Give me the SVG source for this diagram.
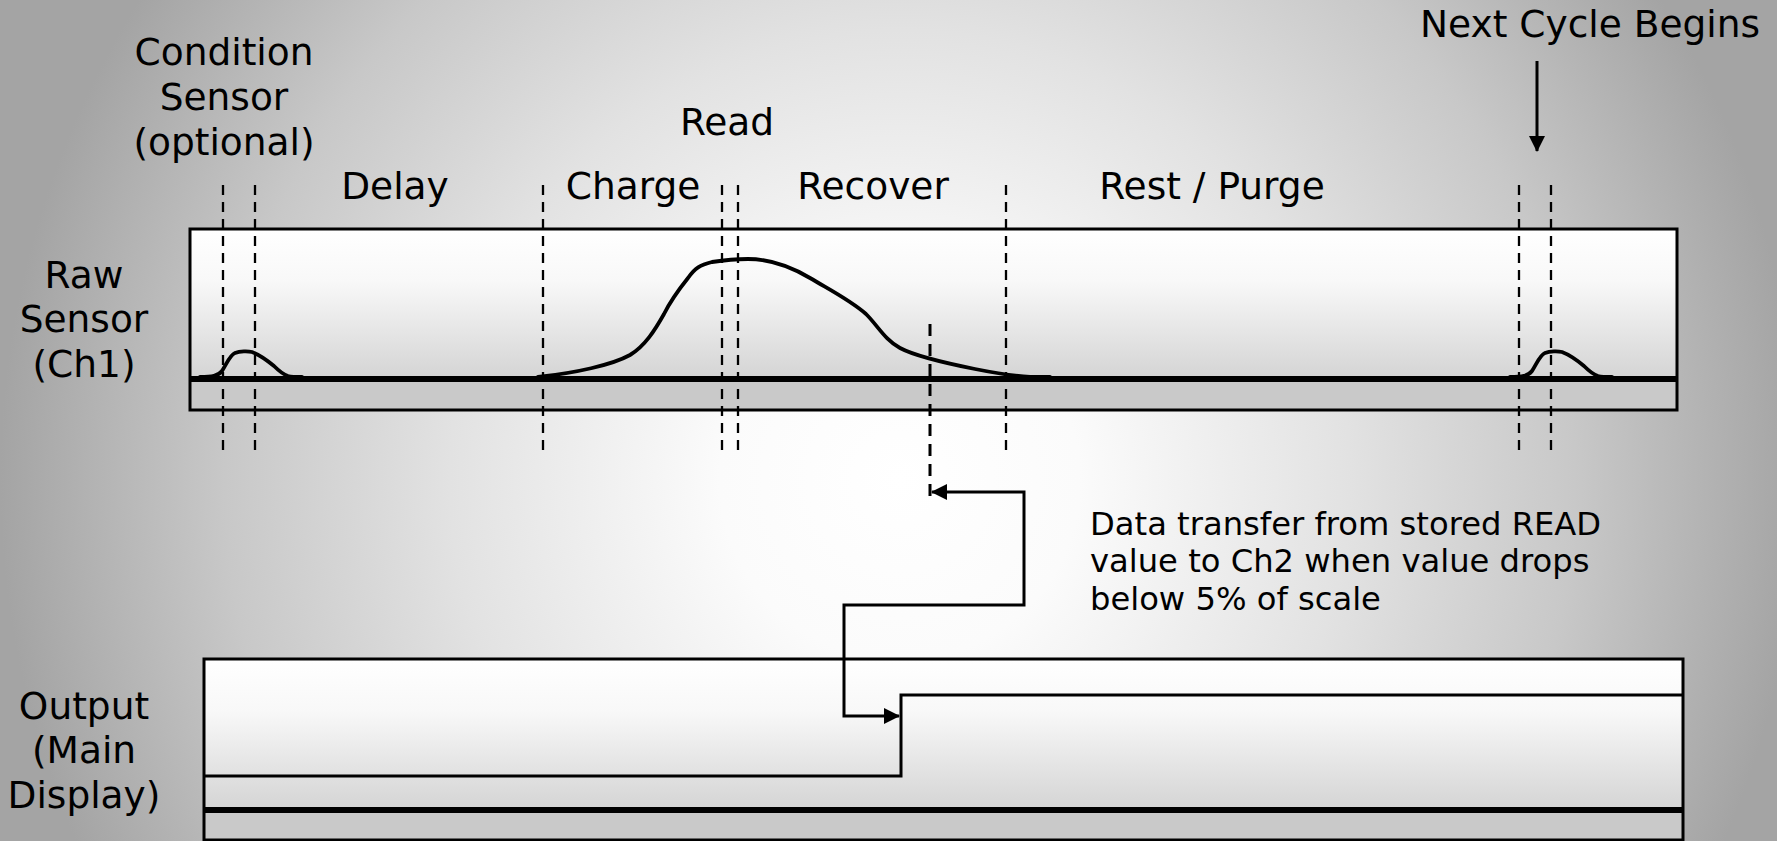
<svg xmlns="http://www.w3.org/2000/svg" width="1777" height="841" viewBox="0 0 1777 841">
  <defs>
    <radialGradient id="bg" gradientUnits="userSpaceOnUse" cx="900" cy="480" r="900">
      <stop offset="0" stop-color="#ffffff"/>
      <stop offset="0.2" stop-color="#fbfbfb"/>
      <stop offset="0.5" stop-color="#e2e2e2"/>
      <stop offset="0.75" stop-color="#c8c8c8"/>
      <stop offset="1" stop-color="#a4a4a4"/>
    </radialGradient>
    <linearGradient id="boxfill" x1="0" y1="0" x2="0" y2="1">
      <stop offset="0" stop-color="#ffffff"/>
      <stop offset="0.35" stop-color="#f8f8f8"/>
      <stop offset="1" stop-color="#d4d4d4"/>
    </linearGradient>
    <marker id="arrow" markerUnits="userSpaceOnUse" markerWidth="16" markerHeight="16" viewBox="0 0 16 16" refX="15" refY="8" orient="auto">
      <path d="M0,0 L16,8 L0,16 Z" fill="#000"/>
    </marker>
    <marker id="arrowStart" markerUnits="userSpaceOnUse" markerWidth="16" markerHeight="16" viewBox="0 0 16 16" refX="1" refY="8" orient="auto">
      <path d="M16,0 L0,8 L16,16 Z" fill="#000"/>
    </marker>
    <style>
      text { font-family: "DejaVu Sans", Verdana, sans-serif; fill: #000; }
      .lbl { font-size: 37.5px; text-anchor: middle; }
      .note { font-size: 32.2px; }
      .frame { stroke: #000; stroke-width: 3; }
      .band { fill: #c9c9c9; }
      .base { stroke: #000; stroke-width: 6; fill: none; }
      .sig { stroke: #000; stroke-width: 3.8; fill: none; stroke-linejoin: round; stroke-linecap: round; }
      .div { stroke: #000; stroke-width: 2.3; stroke-dasharray: 10 7; fill: none; }
      .xfer { stroke: #000; stroke-width: 3; stroke-dasharray: 12 8; fill: none; }
      .conn { stroke: #000; stroke-width: 3; fill: none; }
    </style>
  </defs>

  <rect id="background" x="0" y="0" width="1777" height="841" fill="url(#bg)"/>

  <g id="raw-sensor">
    <rect x="190" y="229" width="1487" height="150" fill="url(#boxfill)"/>
    <rect class="band" x="190" y="379" width="1487" height="31"/>
    <rect class="frame" x="190" y="229" width="1487" height="181" fill="none"/>
    <line class="base" x1="190" y1="379" x2="1677" y2="379"/>
    <path class="sig" d="M 200 377 C 212 377, 218 376, 222 371 C 227 363, 230 355, 235 353 C 240 351, 248 351, 252 352 C 260 355, 268 361, 274 366 C 279 371, 282 374, 288 376 C 292 377, 296 377, 302 377"/>
    <path class="sig" d="M 538 377 C 575 373, 612 365, 630 355 C 645 346, 655 330, 664 314 C 672 298, 680 288, 688 278 C 695 268, 700 265, 712 262 C 725 260, 735 259, 748 259 C 770 259, 790 266, 810 278 C 830 290, 850 300, 866 314 C 878 326, 885 340, 900 348 C 915 356, 950 364, 975 369 C 995 373, 1010 376, 1030 377 L 1050 377"/>
    <path class="sig" d="M 1510 377 C 1522 377, 1528 376, 1532 371 C 1537 363, 1540 355, 1545 353 C 1550 351, 1558 351, 1562 352 C 1570 355, 1578 361, 1584 366 C 1589 371, 1592 374, 1598 376 C 1602 377, 1606 377, 1612 377"/>
    <text class="lbl" x="84" y="288">Raw</text>
    <text class="lbl" x="84" y="332">Sensor</text>
    <text class="lbl" x="84" y="377">(Ch1)</text>
  </g>

  <g id="output">
    <rect x="204" y="659" width="1479" height="151" fill="url(#boxfill)"/>
    <rect class="band" x="204" y="810" width="1479" height="30"/>
    <rect class="frame" x="204" y="659" width="1479" height="181" fill="none"/>
    <line class="base" x1="204" y1="810" x2="1683" y2="810"/>
    <path class="conn" d="M 204 776 L 901 776 L 901 695 L 1683 695"/>
    <text class="lbl" x="84" y="719">Output</text>
    <text class="lbl" x="84" y="763">(Main</text>
    <text class="lbl" x="84" y="808">Display)</text>
  </g>

  <g id="phase-dividers">
    <line class="div" x1="223" y1="185" x2="223" y2="456"/>
    <line class="div" x1="255" y1="185" x2="255" y2="456"/>
    <line class="div" x1="543" y1="185" x2="543" y2="456"/>
    <line class="div" x1="722" y1="185" x2="722" y2="456"/>
    <line class="div" x1="738" y1="185" x2="738" y2="456"/>
    <line class="div" x1="1006" y1="185" x2="1006" y2="456"/>
    <line class="div" x1="1519" y1="185" x2="1519" y2="456"/>
    <line class="div" x1="1551" y1="185" x2="1551" y2="456"/>
    <line class="xfer" x1="930" y1="324" x2="930" y2="500"/>
  </g>

  <g id="phase-labels">
    <g id="label-condition">
      <text class="lbl" x="224" y="65">Condition</text>
      <text class="lbl" x="224" y="110">Sensor</text>
      <text class="lbl" x="224" y="155">(optional)</text>
    </g>
    <text id="label-read" class="lbl" x="727" y="135">Read</text>
    <text id="label-delay" class="lbl" x="395" y="199">Delay</text>
    <text id="label-charge" class="lbl" x="633" y="199">Charge</text>
    <text id="label-recover" class="lbl" x="873" y="199">Recover</text>
    <text id="label-rest" class="lbl" x="1212" y="199">Rest / Purge</text>
    <text id="label-next" class="lbl" x="1590" y="37">Next Cycle Begins</text>
  </g>

  <g id="note">
    <text class="note" x="1090" y="535">Data transfer from stored READ</text>
    <text class="note" x="1090" y="572">value to Ch2 when value drops</text>
    <text class="note" x="1090" y="610">below 5% of scale</text>
  </g>

  <g id="connectors">
    <path class="conn" d="M 932 492 L 1024 492 L 1024 605 L 844 605 L 844 716 L 899 716" marker-start="url(#arrowStart)" marker-end="url(#arrow)"/>
    <path class="conn" d="M 1537 61 L 1537 151" stroke-width="2.5" marker-end="url(#arrow)"/>
  </g>
</svg>
